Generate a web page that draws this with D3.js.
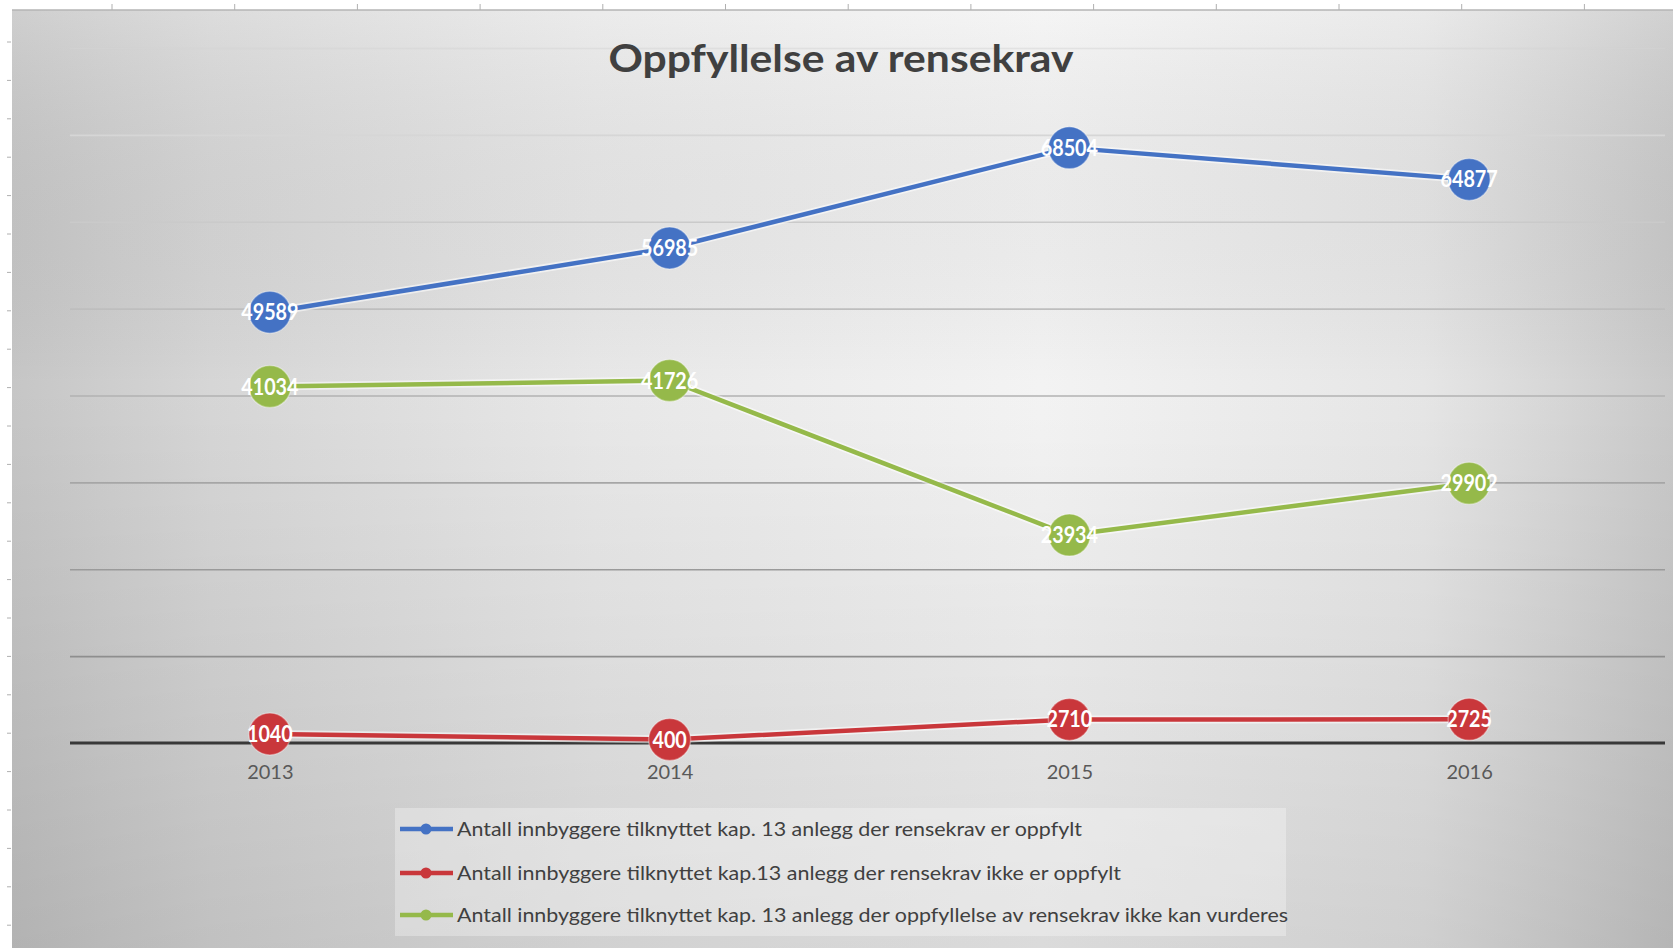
<!DOCTYPE html>
<html>
<head>
<meta charset="utf-8">
<script src="https://cdn.jsdelivr.net/npm/d3@7"></script>
<style>
  html, body { margin: 0; padding: 0; background: #ffffff; }
  svg { display: block; }
</style>
</head>
<body>
<svg id="chart" width="1673" height="948"></svg>
<script>
// ---- data ----
const years = ["2013", "2014", "2015", "2016"];
const oppfylt = [49589, 56985, 68504, 64877];
const ikkeOppfylt = [1040, 400, 2710, 2725];
const kanIkkeVurderes = [41034, 41726, 23934, 29902];
const seriesNames = [
  "Antall innbyggere tilknyttet kap. 13 anlegg der rensekrav er oppfylt",
  "Antall innbyggere tilknyttet kap.13 anlegg der rensekrav ikke er oppfylt",
  "Antall innbyggere tilknyttet kap. 13 anlegg der oppfyllelse av rensekrav ikke kan vurderes"
];
const yTicks = [0, 10000, 20000, 30000, 40000, 50000, 60000, 70000, 80000];
const title = "Oppfyllelse av rensekrav";

const colors = ["#4472c4", "#c9373b", "#95b94a"];
const seriesValues = [oppfylt, ikkeOppfylt, kanIkkeVurderes];

const W = 1673, H = 948;
const svg = d3.select("#chart");
const defs = svg.append("defs");

// background gradients
const hg = defs.append("linearGradient").attr("id", "hg").attr("x1", 0).attr("x2", 1).attr("y1", 0).attr("y2", 0);
[[0, "#c6c6c6"], [0.12, "#d6d6d6"], [0.35, "#e8e8e8"], [0.62, "#f3f3f3"], [0.85, "#e6e6e6"], [1, "#c9c9c9"]]
  .forEach(([o, c]) => hg.append("stop").attr("offset", o).attr("stop-color", c));
const vg = defs.append("linearGradient").attr("id", "vg").attr("x1", 0).attr("x2", 0).attr("y1", 0).attr("y2", 1);
[[0, "#ffffff", 0.15], [0.4, "#000000", 0], [1, "#000000", 0.10]]
  .forEach(([o, c, a]) => vg.append("stop").attr("offset", o).attr("stop-color", c).attr("stop-opacity", a));

// ruler strips (white)
svg.append("rect").attr("x", 0).attr("y", 0).attr("width", W).attr("height", H).attr("fill", "#ffffff");
const chartX = 12, chartY = 10;
svg.append("rect").attr("x", chartX).attr("y", chartY).attr("width", W - chartX).attr("height", H - chartY).attr("fill", "url(#hg)");
svg.append("rect").attr("x", chartX).attr("y", chartY).attr("width", W - chartX).attr("height", H - chartY).attr("fill", "url(#vg)");
svg.append("line").attr("x1", chartX).attr("x2", W).attr("y1", chartY).attr("y2", chartY).attr("stroke", "#b4b4b4").attr("stroke-width", 1.5);

// ruler ticks
const rulerTop = d3.range(112, W, 122.7);
svg.append("g").selectAll("line").data(rulerTop).join("line")
  .attr("x1", d => d).attr("x2", d => d).attr("y1", 4).attr("y2", 10)
  .attr("stroke", "#b0b0b0").attr("stroke-width", 1);
const rulerLeft = d3.range(42, H, 38.4);
svg.append("g").selectAll("line").data(rulerLeft).join("line")
  .attr("x1", 7).attr("x2", 11).attr("y1", d => d).attr("y2", d => d)
  .attr("stroke", "#b0b0b0").attr("stroke-width", 1);

// scales
const plotL = 70, plotR = 1669, plotT = 48, plotB = 743;
const x = d3.scalePoint().domain(years).range([plotL, plotR]).padding(0.5);
const y = d3.scaleLinear().domain([0, 80000]).range([plotB, plotT]);

// gridlines
const gridColor = d3.scaleLinear().domain([80000, 70000, 10000]).range(["#d4d4d4", "#d6d6d6", "#8e8e8e"]);
const grid = svg.append("g").attr("transform", `translate(${plotL},0)`)
  .call(d3.axisLeft(y).tickValues(yTicks.filter(v => v > 0)).tickSize(-(plotR - 4 - plotL)).tickFormat(""));
grid.select(".domain").remove();
grid.selectAll(".tick line").attr("stroke", d => gridColor(d)).attr("stroke-width", 1.6)
  .attr("stroke-opacity", d => d === 80000 ? 0.5 : 1);

// x axis
const xAxis = svg.append("g").attr("transform", `translate(0,${plotB})`)
  .call(d3.axisBottom(x).tickSize(0).tickPadding(22).tickSizeOuter(0));
xAxis.select(".domain").remove();
xAxis.selectAll("text").attr("font-family", "Lato, 'Open Sans', sans-serif").attr("font-size", 20).attr("fill", "#595959");
svg.append("line").attr("x1", plotL).attr("x2", plotR - 4).attr("y1", plotB).attr("y2", plotB)
  .attr("stroke", "#383838").attr("stroke-width", 3);

// title
svg.append("text").attr("x", 841).attr("y", 72).attr("text-anchor", "middle")
  .attr("font-family", "Lato, 'Open Sans', sans-serif").attr("font-weight", 700).attr("font-size", 38)
  .attr("textLength", 465).attr("lengthAdjust", "spacingAndGlyphs")
  .attr("fill", "#404040").text(title);

// series
const line = d3.line().x((d, i) => x(years[i])).y(d => y(d));
seriesValues.forEach((vals, si) => {
  const g = svg.append("g");
  g.append("path").datum(vals).attr("d", line).attr("fill", "none")
    .attr("stroke", "#ffffff").attr("stroke-opacity", 0.55).attr("stroke-width", 8).attr("stroke-linejoin", "round");
  g.append("path").datum(vals).attr("d", line).attr("fill", "none")
    .attr("stroke", colors[si]).attr("stroke-width", 4.5).attr("stroke-linejoin", "round");
  g.selectAll("circle").data(vals).join("circle")
    .attr("cx", (d, i) => x(years[i])).attr("cy", d => y(d)).attr("r", 21)
    .attr("fill", colors[si]).attr("stroke", "rgba(255,255,255,0.35)").attr("stroke-width", 1.5);
  g.selectAll("text").data(vals).join("text")
    .attr("transform", (d, i) => `translate(${x(years[i])},${y(d) + 8}) scale(0.86,1)`)
    .attr("text-anchor", "middle")
    .attr("font-family", "Lato, 'Open Sans', sans-serif").attr("font-weight", 700).attr("font-size", 23)
    .attr("fill", "#ffffff").text(d => d);
});

// legend
const legX = 395, legY = 808, legW = 891, legH = 128;
svg.append("rect").attr("x", legX).attr("y", legY).attr("width", legW).attr("height", legH)
  .attr("fill", "#ffffff").attr("fill-opacity", 0.3);
const rowY = [829, 873, 915];
const textLens = [625, 664, 831];
seriesNames.forEach((name, i) => {
  const g = svg.append("g");
  g.append("line").attr("x1", 400).attr("x2", 453).attr("y1", rowY[i]).attr("y2", rowY[i])
    .attr("stroke", colors[i]).attr("stroke-width", 4.5);
  g.append("circle").attr("cx", 426).attr("cy", rowY[i]).attr("r", 5.5).attr("fill", colors[i]);
  g.append("text").attr("x", 457).attr("y", rowY[i] + 7)
    .attr("font-family", "Lato, 'Open Sans', sans-serif").attr("font-size", 20).attr("fill", "#404040")
    .attr("textLength", textLens[i]).attr("lengthAdjust", "spacingAndGlyphs")
    .text(name);
});
</script>
</body>
</html>
